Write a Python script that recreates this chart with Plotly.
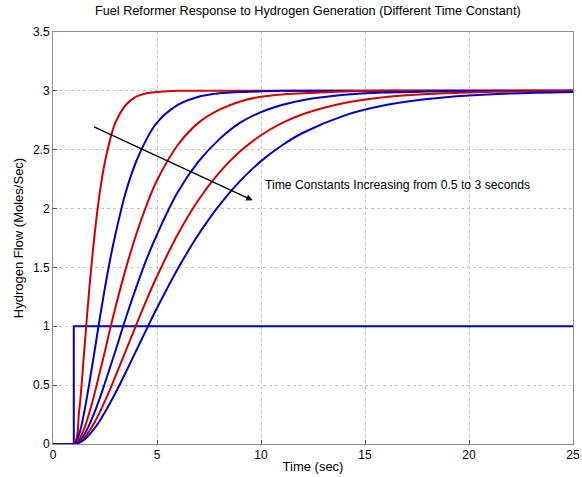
import plotly.graph_objects as go

# Time grid (sec) shared by the six responses
time = [0, 1, 1.25, 1.5, 1.75, 2, 2.25, 2.5, 2.75, 3, 3.5, 4, 4.5, 5, 6, 7, 8, 9, 10, 11, 12, 14, 16, 18, 20, 22, 25]

# Responses (time constants 0.5 .. 3 s)
tau_0_5 = [0, 0, 0.27, 0.79, 1.33, 1.78, 2.14, 2.40, 2.59, 2.73, 2.88, 2.95, 2.98, 2.99, 3.0, 3.0, 3.0, 3.0, 3.0, 3.0, 3.0, 3.0, 3.0, 3.0, 3.0, 3.0, 3.0]
tau_1_0 = [0, 0, 0.08, 0.27, 0.52, 0.79, 1.07, 1.33, 1.57, 1.78, 2.14, 2.40, 2.59, 2.73, 2.88, 2.95, 2.98, 2.99, 2.996, 3.0, 3.0, 3.0, 3.0, 3.0, 3.0, 3.0, 3.0]
tau_1_5 = [0, 0, 0.04, 0.13, 0.27, 0.43, 0.61, 0.79, 0.98, 1.16, 1.49, 1.78, 2.03, 2.24, 2.54, 2.73, 2.84, 2.91, 2.95, 2.97, 2.98, 2.995, 3.0, 3.0, 3.0, 3.0, 3.0]
tau_2_0 = [0, 0, 0.02, 0.08, 0.165, 0.27, 0.39, 0.52, 0.655, 0.79, 1.07, 1.33, 1.57, 1.78, 2.14, 2.40, 2.59, 2.73, 2.82, 2.88, 2.92, 2.966, 2.986, 2.994, 2.998, 2.999, 3.0]
tau_2_5 = [0, 0, 0.014, 0.053, 0.111, 0.185, 0.271, 0.366, 0.467, 0.574, 0.793, 1.012, 1.225, 1.425, 1.782, 2.075, 2.307, 2.486, 2.623, 2.725, 2.801, 2.897, 2.948, 2.974, 2.987, 2.994, 2.998]
tau_3_0 = [0, 0, 0.010, 0.037, 0.080, 0.134, 0.198, 0.271, 0.350, 0.433, 0.610, 0.793, 0.976, 1.155, 1.489, 1.782, 2.030, 2.235, 2.403, 2.536, 2.642, 2.790, 2.879, 2.931, 2.961, 2.978, 2.991]

# Step demand
step_time = [0, 1, 1, 25]
step_flow = [0, 0, 1, 1]

x_ticks = [0, 5, 10, 15, 20, 25]
y_ticks = [0, 0.5, 1, 1.5, 2, 2.5, 3, 3.5]
y_tick_labels = ["0", "0.5", "1", "1.5", "2", "2.5", "3", "3.5"]

RED = "#d00000"
BLUE = "#0000c0"
FONT = "Liberation Sans, Arial, sans-serif"

fig = go.Figure()
fig.add_trace(go.Scatter(x=step_time, y=step_flow, mode="lines",
                         line=dict(color=BLUE, width=2), showlegend=False))
series = [(tau_0_5, RED), (tau_1_0, BLUE), (tau_1_5, RED),
          (tau_2_0, BLUE), (tau_2_5, RED), (tau_3_0, BLUE)]
for ys, c in series:
    fig.add_trace(go.Scatter(x=time, y=ys, mode="lines",
                             line=dict(color=c, width=2, shape="spline", smoothing=1.0),
                             showlegend=False))

fig.add_annotation(x=9.6, y=2.07, ax=1.9, ay=2.70, xref="x", yref="y",
                   axref="x", ayref="y", showarrow=True, arrowhead=2,
                   arrowsize=1, arrowwidth=1.3, arrowcolor="black", text="")
fig.add_annotation(x=10.1, y=2.2, xref="x", yref="y", showarrow=False,
                   xanchor="left", yanchor="middle",
                   text="Time Constants Increasing from 0.5 to 3 seconds",
                   font=dict(size=12.2, color="black", family=FONT))

axis_common = dict(showline=True, linecolor="#8c8c8c", linewidth=1, mirror=True,
                   showgrid=True, gridcolor="#c4c4c4", griddash="dot", gridwidth=1,
                   zeroline=False, ticks="inside", ticklen=4, tickcolor="#555555",
                   automargin=False,
                   tickfont=dict(size=12, color="black", family=FONT))

fig.update_xaxes(range=[0, 25], tickvals=x_ticks, **axis_common,
                 title=dict(text="Time (sec)", font=dict(size=13, color="black", family=FONT), standoff=0))
fig.update_yaxes(range=[0, 3.5], tickvals=y_ticks, ticktext=y_tick_labels, **axis_common,
                 title=dict(text="Hydrogen Flow (Moles/Sec)", font=dict(size=13, color="black", family=FONT), standoff=6))

fig.update_layout(
    width=582, height=477,
    margin=dict(l=53, r=9, t=32, b=33),
    paper_bgcolor="white", plot_bgcolor="white",
    font=dict(family=FONT, size=12, color="black"),
    title=dict(text="Fuel Reformer Response to Hydrogen Generation (Different Time Constant)",
               x=0.49, xref="paper", y=0.987, yanchor="top",
               font=dict(size=12.7, color="black", family=FONT)),
)

# remove the page's default body margin so the figure sits at the window's corner
fig.write_html("out.html",
               config={"displayModeBar": False},
               post_script="document.body.style.margin='0';document.body.style.overflow='hidden';")
